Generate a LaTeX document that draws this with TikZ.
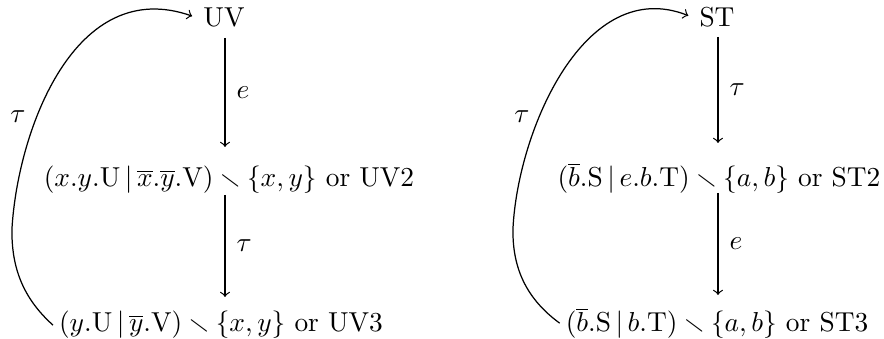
\documentclass[tikz,border=0pt]{standalone}
\usepackage{amssymb}
\begin{document}
\begin{tikzpicture}[x=0.365pt,y=-0.365pt,
  lbl/.style={inner sep=0pt},
  st/.style={inner sep=2pt,anchor=base},
  every path/.style={line width=0.45pt},
  edge/.style={->}]
\useasboundingbox (0,0) rectangle (884,339);
% left diagram
\node[st] (uv) at (224,27) {UV};
\node[st] (uv2) at (229,187) {$(x.y.\mathrm{U} \,|\, \overline{x}.\overline{y}.\mathrm{V}) \smallsetminus \{x,y\}$ or UV2};
\node[st] (uv3) at (221,332) {$(y.\mathrm{U} \,|\, \overline{y}.\mathrm{V}) \smallsetminus \{x,y\}$ or UV3};
\coordinate (l1) at (225,38);
\coordinate (l2) at (225,147);
\coordinate (l3) at (225,195);
\coordinate (l4) at (225,297);
\draw[edge] (l1) -- node[right=4pt,lbl] {$e$} (l2);
\draw[edge] (l3) -- node[right=4pt,lbl] {$\tau$} (l4);
\draw[edge,shorten >=2pt] (uv3.west) .. controls (25,300) and (11,270) .. (12,228)
  .. controls (18,130) and (75,-25) .. (uv.west);
\node[lbl] at (18,117) {$\tau$};
% right diagram
\node[st] (st) at (717,27) {ST};
\node[st] (st2) at (719,187) {$(\overline{b}.\mathrm{S} \,|\, e.b.\mathrm{T}) \smallsetminus \{a,b\}$ or ST2};
\node[st] (st3) at (717,332) {$(\overline{b}.\mathrm{S} \,|\, b.\mathrm{T}) \smallsetminus \{a,b\}$ or ST3};
\coordinate (r1) at (718,37);
\coordinate (r2) at (718,143);
\coordinate (r3) at (718,193);
\coordinate (r4) at (718,295);
\draw[edge] (r1) -- node[right=4pt,lbl] {$\tau$} (r2);
\draw[edge] (r3) -- node[right=4pt,lbl] {$e$} (r4);
\draw[edge,shorten >=2pt] (st3.west) .. controls (528,300) and (512,270) .. (513,228)
  .. controls (518,130) and (585,-25) .. (st.west);
\node[lbl] at (522,117) {$\tau$};
\end{tikzpicture}
\end{document}
